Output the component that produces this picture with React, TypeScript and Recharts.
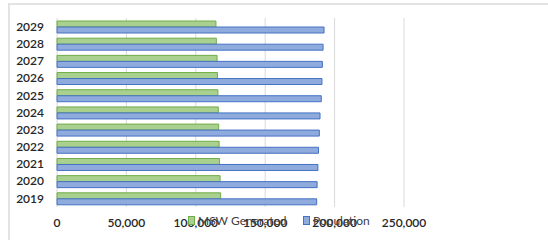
import { BarChart, Bar, XAxis, YAxis, CartesianGrid } from "recharts"

const YEARS = ["2019", "2020", "2021", "2022", "2023", "2024", "2025", "2026", "2027", "2028", "2029"]
const MSW_GENERATED = [117900, 117500, 117100, 116800, 116500, 116200, 115900, 115600, 115300, 114800, 114500]
const POPULATION = [187100, 187400, 188000, 188400, 189000, 189500, 190400, 190900, 191200, 191700, 192400]
const X_TICKS = [0, 50000, 100000, 150000, 200000, 250000]

const FONT = "Lato, 'Open Sans', sans-serif"

const data = YEARS.map((year, i) => ({ year, msw: MSW_GENERATED[i], population: POPULATION[i] }))

const LEGEND_ITEMS = [
  { label: "MSW Generated", fill: "#a9d08e", stroke: "#70ad47", x: 0 },
  { label: "Population", fill: "#8faadc", stroke: "#4472c4", x: 115 },
]

function ChartLegend() {
  return (
    <div style={{ position: "absolute", left: 188, top: 213, width: 250, height: 16, fontFamily: FONT, fontSize: 12, color: "#404040" }}>
      {LEGEND_ITEMS.map((it) => (
        <div key={it.label} style={{ position: "absolute", left: it.x, top: 0, display: "flex", alignItems: "center", whiteSpace: "nowrap" }}>
          <span style={{ display: "inline-block", width: 5, height: 7, background: it.fill, border: `1px solid ${it.stroke}`, marginRight: 3 }} />
          <span>{it.label}</span>
        </div>
      ))}
    </div>
  )
}

export default function App() {
  return (
    <div style={{ position: "absolute", left: 0, top: 0, width: 548, height: 240, background: "#fff", overflow: "hidden" }}>
      <div style={{ position: "absolute", left: 8, top: 3, width: 540, height: 237, borderTop: "2px solid #e3e3e3", borderLeft: "2px solid #e3e3e3" }} />
      <BarChart
        width={548}
        height={240}
        data={data}
        layout="vertical"
        margin={{ top: 18, right: 144, bottom: 3, left: 10 }}
        barGap={0}
        barSize={6}
      >
        <CartesianGrid horizontal={false} stroke="#d9d9d9" />
        <XAxis
          type="number"
          domain={[0, 250000]}
          ticks={X_TICKS}
          interval={0}
          axisLine={false}
          tickLine={false}
          tickSize={0}
          tickMargin={11}
          height={30}
          tickFormatter={(v: number) => v.toLocaleString("en-US")}
          tick={{ fill: "#262626", fontSize: 12, fontFamily: FONT, fontWeight: 600 }}
        />
        <YAxis
          type="category"
          dataKey="year"
          reversed
          interval={0}
          width={47}
          axisLine={false}
          tickLine={false}
          tickSize={0}
          tickMargin={13}
          tick={{ fill: "#262626", fontSize: 12, fontFamily: FONT, fontWeight: 600 }}
        />
        <Bar dataKey="msw" name="MSW Generated" fill="#a9d08e" stroke="#70ad47" strokeWidth={1} isAnimationActive={false} />
        <Bar dataKey="population" name="Population" fill="#8faadc" stroke="#4472c4" strokeWidth={1} isAnimationActive={false} />
      </BarChart>
      <ChartLegend />
    </div>
  )
}
